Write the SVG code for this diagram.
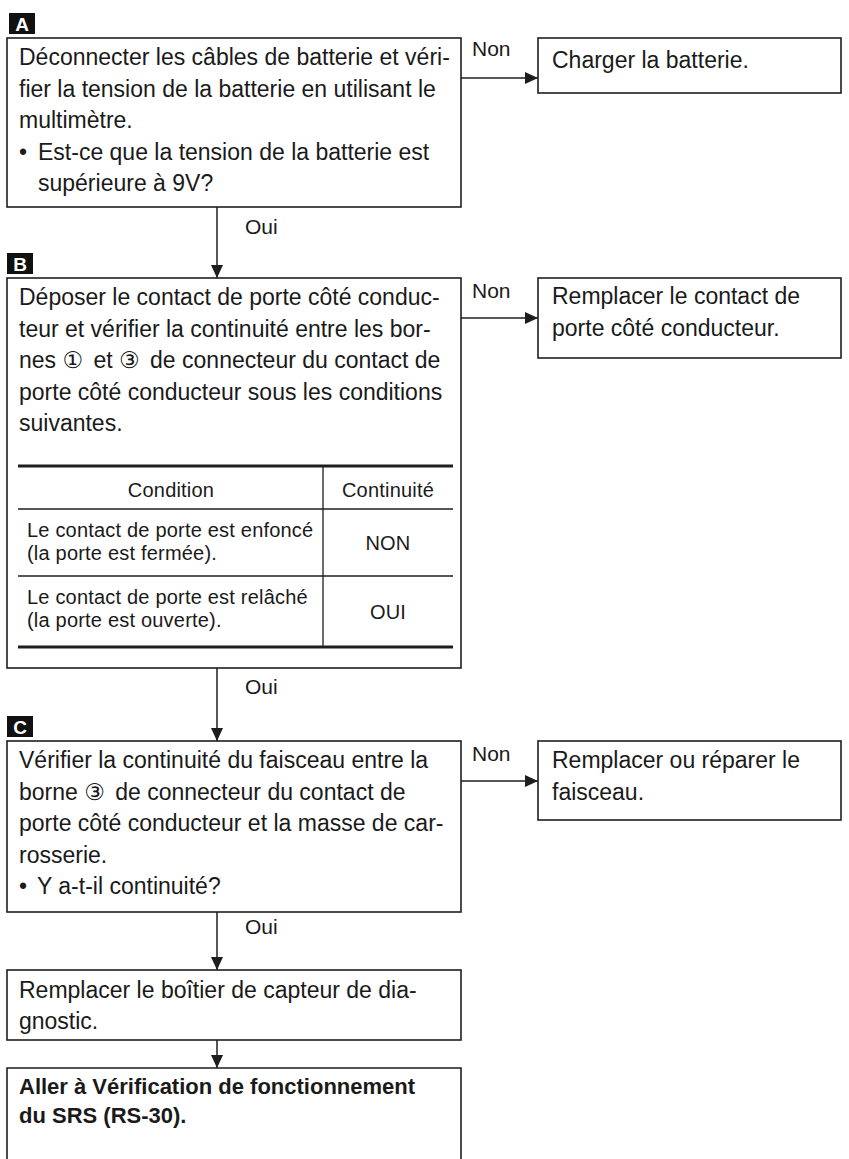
<svg xmlns="http://www.w3.org/2000/svg" width="849" height="1159" viewBox="0 0 849 1159">
<style>
.box{fill:none;stroke:#1e1e1e;stroke-width:1.6}
.t{font-family:"Liberation Sans",Arial,"DejaVu Sans",sans-serif;font-size:23px;fill:#1a1a1a}
.tb{font-family:"Liberation Sans",Arial,sans-serif;font-size:22px;font-weight:bold;fill:#1a1a1a}
.tt{font-family:"Liberation Sans",Arial,"DejaVu Sans",sans-serif;font-size:20px;letter-spacing:0.2px;fill:#1a1a1a}
.lab{font-family:"Liberation Sans",Arial,sans-serif;font-size:21px;fill:#1a1a1a}
.badge{fill:#111}
.bl{font-family:"Liberation Sans",Arial,sans-serif;font-size:19px;font-weight:bold;fill:#fff;text-anchor:middle}
.c{fill:none;stroke:#1e1e1e;stroke-width:1.5}
.thick{stroke:#1e1e1e;stroke-width:3}
.thin{stroke:#1e1e1e;stroke-width:1.3}
.mid{text-anchor:middle}
</style>
<defs>
<marker id="ah" markerUnits="userSpaceOnUse" markerWidth="14" markerHeight="12" refX="13" refY="6" orient="auto">
<path d="M0,0 L13,6 L0,12 Z" fill="#1e1e1e"/>
</marker>
</defs>

<g id="connectors">
<line class="c" x1="461" y1="78" x2="538" y2="78" marker-end="url(#ah)"/>
<text class="lab" x="472" y="56">Non</text>
<line class="c" x1="217" y1="207" x2="217" y2="278" marker-end="url(#ah)"/>
<text class="lab" x="245" y="234">Oui</text>
<line class="c" x1="461" y1="318" x2="538" y2="318" marker-end="url(#ah)"/>
<text class="lab" x="472" y="298">Non</text>
<line class="c" x1="217" y1="668" x2="217" y2="741" marker-end="url(#ah)"/>
<text class="lab" x="245" y="694">Oui</text>
<line class="c" x1="461" y1="781" x2="538" y2="781" marker-end="url(#ah)"/>
<text class="lab" x="472" y="761">Non</text>
<line class="c" x1="217" y1="912" x2="217" y2="970" marker-end="url(#ah)"/>
<text class="lab" x="245" y="934">Oui</text>
<line class="c" x1="217" y1="1040" x2="217" y2="1068" marker-end="url(#ah)"/>
</g>

<g id="nodeA">
<rect class="badge" x="9" y="13" width="26" height="21"/>
<text class="bl" x="22" y="31">A</text>
<rect class="box" x="7" y="38" width="454" height="169"/>
<text class="t" x="19" y="65">Déconnecter les câbles de batterie et véri-</text>
<text class="t" x="19" y="96.5">fier la tension de la batterie en utilisant le</text>
<text class="t" x="19" y="128">multimètre.</text>
<text class="t" x="19" y="159.5">•<tspan x="38">Est-ce que la tension de la batterie est</tspan></text>
<text class="t" x="38" y="191">supérieure à 9V?</text>
</g>

<g id="nodeA_non">
<rect class="box" x="538" y="38" width="303" height="55"/>
<text class="t" x="552" y="68">Charger la batterie.</text>
</g>

<g id="nodeB">
<rect class="badge" x="7" y="253" width="26" height="21"/>
<text class="bl" x="20" y="271">B</text>
<rect class="box" x="7" y="278" width="454" height="390"/>
<text class="t" x="19" y="305">Déposer le contact de porte côté conduc-</text>
<text class="t" x="19" y="336.5">teur et vérifier la continuité entre les bor-</text>
<text class="t" x="19" y="368">nes ① <tspan dx="4">et ③</tspan> <tspan dx="4">de connecteur du contact de</tspan></text>
<text class="t" x="19" y="399.5">porte côté conducteur sous les conditions</text>
<text class="t" x="19" y="431">suivantes.</text>
<g id="table">
<line class="thick" x1="18" y1="466" x2="453" y2="466"/>
<line class="thin" x1="18" y1="509" x2="453" y2="509"/>
<line class="thin" x1="18" y1="576" x2="453" y2="576"/>
<line class="thick" x1="18" y1="647" x2="453" y2="647"/>
<line class="thin" x1="323" y1="466" x2="323" y2="647"/>
<text class="tt mid" x="171" y="497">Condition</text>
<text class="tt mid" x="388" y="497">Continuité</text>
<text class="tt" x="27" y="537">Le contact de porte est enfoncé</text>
<text class="tt" x="27" y="560">(la porte est fermée).</text>
<text class="tt mid" x="388" y="550">NON</text>
<text class="tt" x="27" y="604">Le contact de porte est relâché</text>
<text class="tt" x="27" y="627">(la porte est ouverte).</text>
<text class="tt mid" x="388" y="619">OUI</text>
</g>
</g>

<g id="nodeB_non">
<rect class="box" x="538" y="278" width="303" height="80"/>
<text class="t" x="552" y="304">Remplacer le contact de</text>
<text class="t" x="552" y="336">porte côté conducteur.</text>
</g>

<g id="nodeC">
<rect class="badge" x="7" y="716" width="26" height="21"/>
<text class="bl" x="20" y="734">C</text>
<rect class="box" x="7" y="741" width="454" height="171"/>
<text class="t" x="19" y="768">Vérifier la continuité du faisceau entre la</text>
<text class="t" x="19" y="799.5">borne ③ <tspan dx="4">de connecteur du contact de</tspan></text>
<text class="t" x="19" y="831">porte côté conducteur et la masse de car-</text>
<text class="t" x="19" y="862.5">rosserie.</text>
<text class="t" x="19" y="894">•<tspan x="37">Y a-t-il continuité?</tspan></text>
</g>

<g id="nodeC_non">
<rect class="box" x="538" y="741" width="303" height="79"/>
<text class="t" x="552" y="768">Remplacer ou réparer le</text>
<text class="t" x="552" y="799.5">faisceau.</text>
</g>

<g id="nodeD">
<rect class="box" x="7" y="970" width="454" height="70"/>
<text class="t" x="19" y="998">Remplacer le boîtier de capteur de dia-</text>
<text class="t" x="19" y="1029">gnostic.</text>
</g>

<g id="nodeE">
<path class="box" d="M7,1159 V1068 H461 V1159"/>
<text class="tb" x="19" y="1094">Aller à Vérification de fonctionnement</text>
<text class="tb" x="19" y="1123">du SRS (RS-30).</text>
</g>
</svg>
